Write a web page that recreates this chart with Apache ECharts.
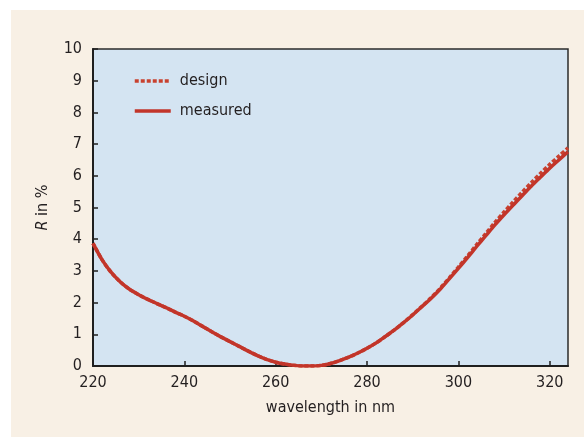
<!DOCTYPE html>
<html>
<head>
<meta charset="utf-8">
<script src="https://cdn.jsdelivr.net/npm/echarts@6/dist/echarts.min.js"></script>
<style>
  html, body { margin: 0; padding: 0; background: #ffffff; }
  #panel { position: absolute; left: 11px; top: 10px; width: 573px; height: 427px; background: #f8f0e5; }
  #chart { position: absolute; left: 0; top: 0; width: 584px; height: 437px; }
</style>
</head>
<body>
<div id="panel"></div>
<div id="chart"></div>
<script>
  // wavelength in nm
  const wavelength = [220, 222, 224, 226, 228, 230, 232, 234, 236, 238, 240, 242, 244, 246, 248, 250,
    252, 254, 256, 258, 260, 262, 264, 266, 268, 270, 272, 274, 276, 278, 280, 282, 284, 286, 288,
    290, 292, 294, 296, 298, 300, 302, 304, 306, 308, 310, 312, 314, 316, 318, 320, 322, 324];

  // reflectance R in %
  const measured = [3.87, 3.35, 2.95, 2.65, 2.42, 2.25, 2.10, 1.97, 1.84, 1.70, 1.57, 1.42, 1.25, 1.08, 0.92, 0.77,
    0.62, 0.47, 0.33, 0.21, 0.12, 0.06, 0.02, 0.00, 0.00, 0.02, 0.08, 0.17, 0.28, 0.41, 0.56, 0.73, 0.93, 1.14, 1.37,
    1.61, 1.87, 2.13, 2.42, 2.75, 3.08, 3.42, 3.77, 4.11, 4.45, 4.77, 5.08, 5.38, 5.68, 5.96, 6.24, 6.50, 6.76];

  const design = [3.87, 3.35, 2.95, 2.65, 2.42, 2.25, 2.10, 1.97, 1.84, 1.70, 1.57, 1.42, 1.25, 1.08, 0.92, 0.77,
    0.62, 0.47, 0.33, 0.21, 0.12, 0.06, 0.02, 0.00, 0.00, 0.02, 0.08, 0.17, 0.28, 0.41, 0.56, 0.73, 0.93, 1.14, 1.37,
    1.62, 1.88, 2.15, 2.45, 2.78, 3.12, 3.47, 3.83, 4.18, 4.53, 4.86, 5.18, 5.49, 5.79, 6.08, 6.36, 6.62, 6.88];

  const xTicks = [220, 240, 260, 280, 300, 320];

  const FONT = '"DejaVu Sans Condensed", "Liberation Sans Narrow", sans-serif';
  const FS = 16;
  const INK = '#231f20';
  const RED = '#c2352a';

  const chart = echarts.init(document.getElementById('chart'), null, { renderer: 'canvas' });

  const pairs = (ys) => wavelength.map((x, i) => [x, ys[i]]);

  chart.setOption({
    backgroundColor: 'transparent',
    animation: false,
    textStyle: { fontFamily: FONT, color: INK },
    grid: {
      left: 93, top: 49, right: 16, bottom: 71,
      show: true,
      backgroundColor: '#d4e4f2',
      borderColor: '#2b2b2b',
      borderWidth: 1.5
    },
    legend: {
      orient: 'vertical',
      left: 133,
      top: 71,
      padding: 0,
      itemWidth: 36,
      itemHeight: 14,
      itemGap: 10,
      itemStyle: { opacity: 0 },
      lineStyle: { width: 3.5 },
      textStyle: { fontFamily: FONT, fontSize: FS, color: INK, lineHeight: 20, padding: [0, 0, 0, 4] },
      data: ['design', 'measured']
    },
    xAxis: {
      type: 'value',
      min: 220,
      max: 324,
      interval: 20,
      name: 'wavelength in nm',
      nameLocation: 'middle',
      nameGap: 34,
      nameTextStyle: { fontFamily: FONT, fontSize: FS, color: INK },
      axisLine: { lineStyle: { color: '#1f1f1f', width: 2 } },
      axisTick: { inside: true, length: 5, lineStyle: { color: '#1f1f1f', width: 1.5 } },
      axisLabel: {
        fontFamily: FONT, fontSize: FS, color: INK, margin: 9,
        showMaxLabel: false,
        formatter: (v) => (xTicks.includes(v) ? String(v) : '')
      },
      splitLine: { show: false }
    },
    yAxis: {
      type: 'value',
      min: 0,
      max: 10,
      interval: 1,
      name: '{i|R} in %',
      nameLocation: 'middle',
      nameGap: 42,
      nameTextStyle: {
        fontFamily: FONT, fontSize: FS, color: INK,
        rich: { i: { fontFamily: FONT, fontSize: FS, fontStyle: 'italic', color: INK } }
      },
      axisLine: { lineStyle: { color: '#1f1f1f', width: 2 } },
      axisTick: { inside: true, length: 5, lineStyle: { color: '#1f1f1f', width: 1.5 } },
      axisLabel: { fontFamily: FONT, fontSize: FS, color: INK, margin: 11 },
      splitLine: { show: false }
    },
    series: [
      {
        name: 'design',
        type: 'line',
        data: pairs(design),
        smooth: 0.3,
        symbol: 'none',
        color: '#c8412f',
        lineStyle: { width: 3.5, type: [4, 2], color: '#c8412f' },
        z: 2
      },
      {
        name: 'measured',
        type: 'line',
        data: pairs(measured),
        smooth: 0.3,
        symbol: 'none',
        color: RED,
        lineStyle: { width: 3.5, type: 'solid', color: RED },
        z: 3
      }
    ]
  });
</script>
</body>
</html>
